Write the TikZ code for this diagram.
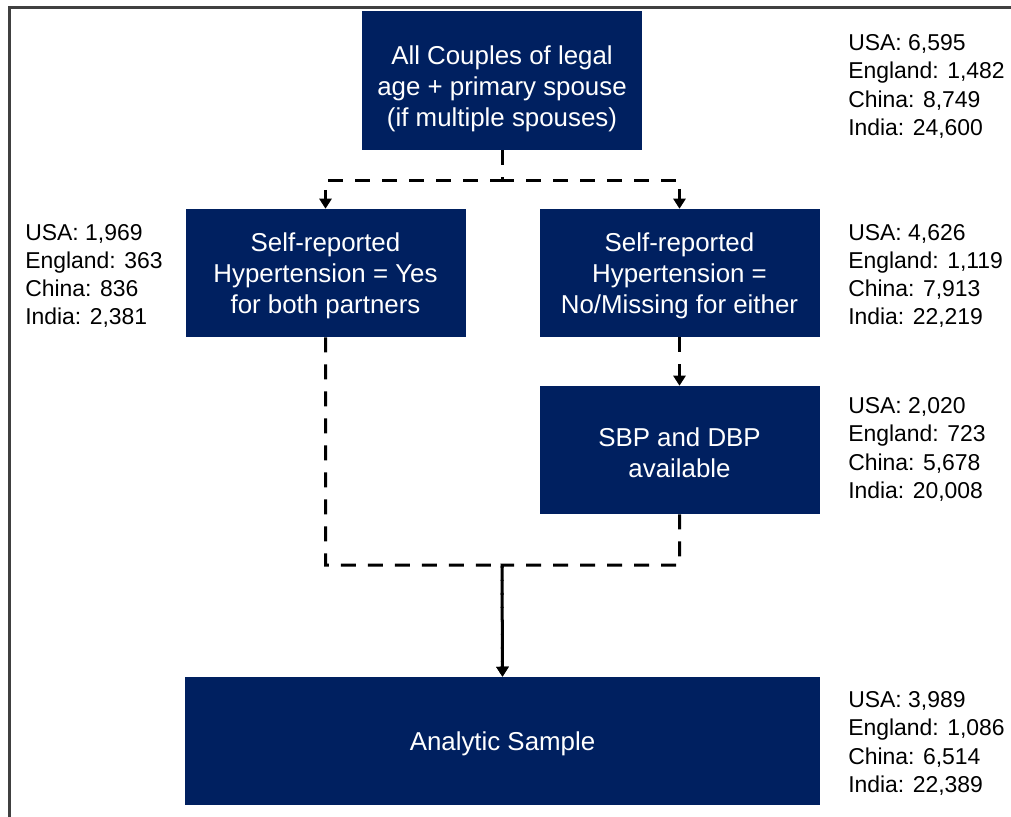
\documentclass[tikz,border=0pt]{standalone}
\usepackage{fontspec}
\setmainfont{Liberation Sans}
\usetikzlibrary{arrows.meta}
\definecolor{navy}{HTML}{002060}
\definecolor{framegray}{HTML}{404040}
\newcommand{\toppad}[1]{\rule{0pt}{#1}}
\begin{document}
\begin{tikzpicture}[x=0.75pt,y=-0.75pt,
  box/.style={fill=navy, draw=none, text=white, inner sep=0pt, align=center,
    minimum width=210pt, minimum height=96pt, font=\fontsize{19.4}{23.25}\selectfont},
  side/.style={anchor=west, inner sep=0pt, align=left, text=black,
    font=\fontsize{17.2}{21.2}\selectfont},
  conn/.style={line width=2.25pt, dash pattern=on 11.25pt off 9pt, black},
  arr/.style={-{Triangle[width=9pt,length=7.5pt]}}]
\useasboundingbox (0,0) rectangle (1011,817);
\fill[white] (0,0) rectangle (1011,817);
\draw[framegray, line width=1.6pt] (9.5,817) -- (9.5,7.5) -- (1011,7.5);

\node[box, minimum height=104.25pt] (top) at (502,80.5)
  {\toppad{26pt}All Couples of legal\\age + primary spouse\\(if multiple spouses)};
\node[box] (left) at (325.5,273) {\toppad{19pt}Self-reported\\Hypertension = Yes\\for both partners};
\node[box] (right) at (679.5,273) {\toppad{19pt}Self-reported\\Hypertension =\\No/Missing for either};
\node[box] (sbp) at (679.5,450) {\toppad{18pt}SBP and DBP\\available};
\node[box, minimum width=476.25pt] (ana) at (502.5,741) {\toppad{19pt}Analytic Sample};

\node[side] (ntop) at (848,86.5) {USA: 6,595\\England: 1,482\\China: 8,749\\India: 24,600};
\node[side] (nleft) at (25,276) {USA: 1,969\\England: 363\\China: 836\\India: 2,381};
\node[side] (nright) at (848,276) {USA: 4,626\\England: 1,119\\China: 7,913\\India: 22,219};
\node[side] (nsbp) at (848,449.5) {USA: 2,020\\England: 723\\China: 5,678\\India: 20,008};
\node[side] (nana) at (848,743.5) {USA: 3,989\\England: 1,086\\China: 6,514\\India: 22,389};

\coordinate (j1) at (502,180);
\coordinate (j2) at (502,565);
\draw[conn, arr] (top.south) -- (j1) -| (left.north);
\draw[conn, arr] (top.south) -- (j1) -| (right.north);
\draw[conn, arr] (right.south) -- (sbp.north);
\draw[conn, arr] (left.south) |- (j2) -- (ana.north);
\draw[conn, arr] (sbp.south) |- (j2) -- (ana.north);
\end{tikzpicture}
\end{document}
